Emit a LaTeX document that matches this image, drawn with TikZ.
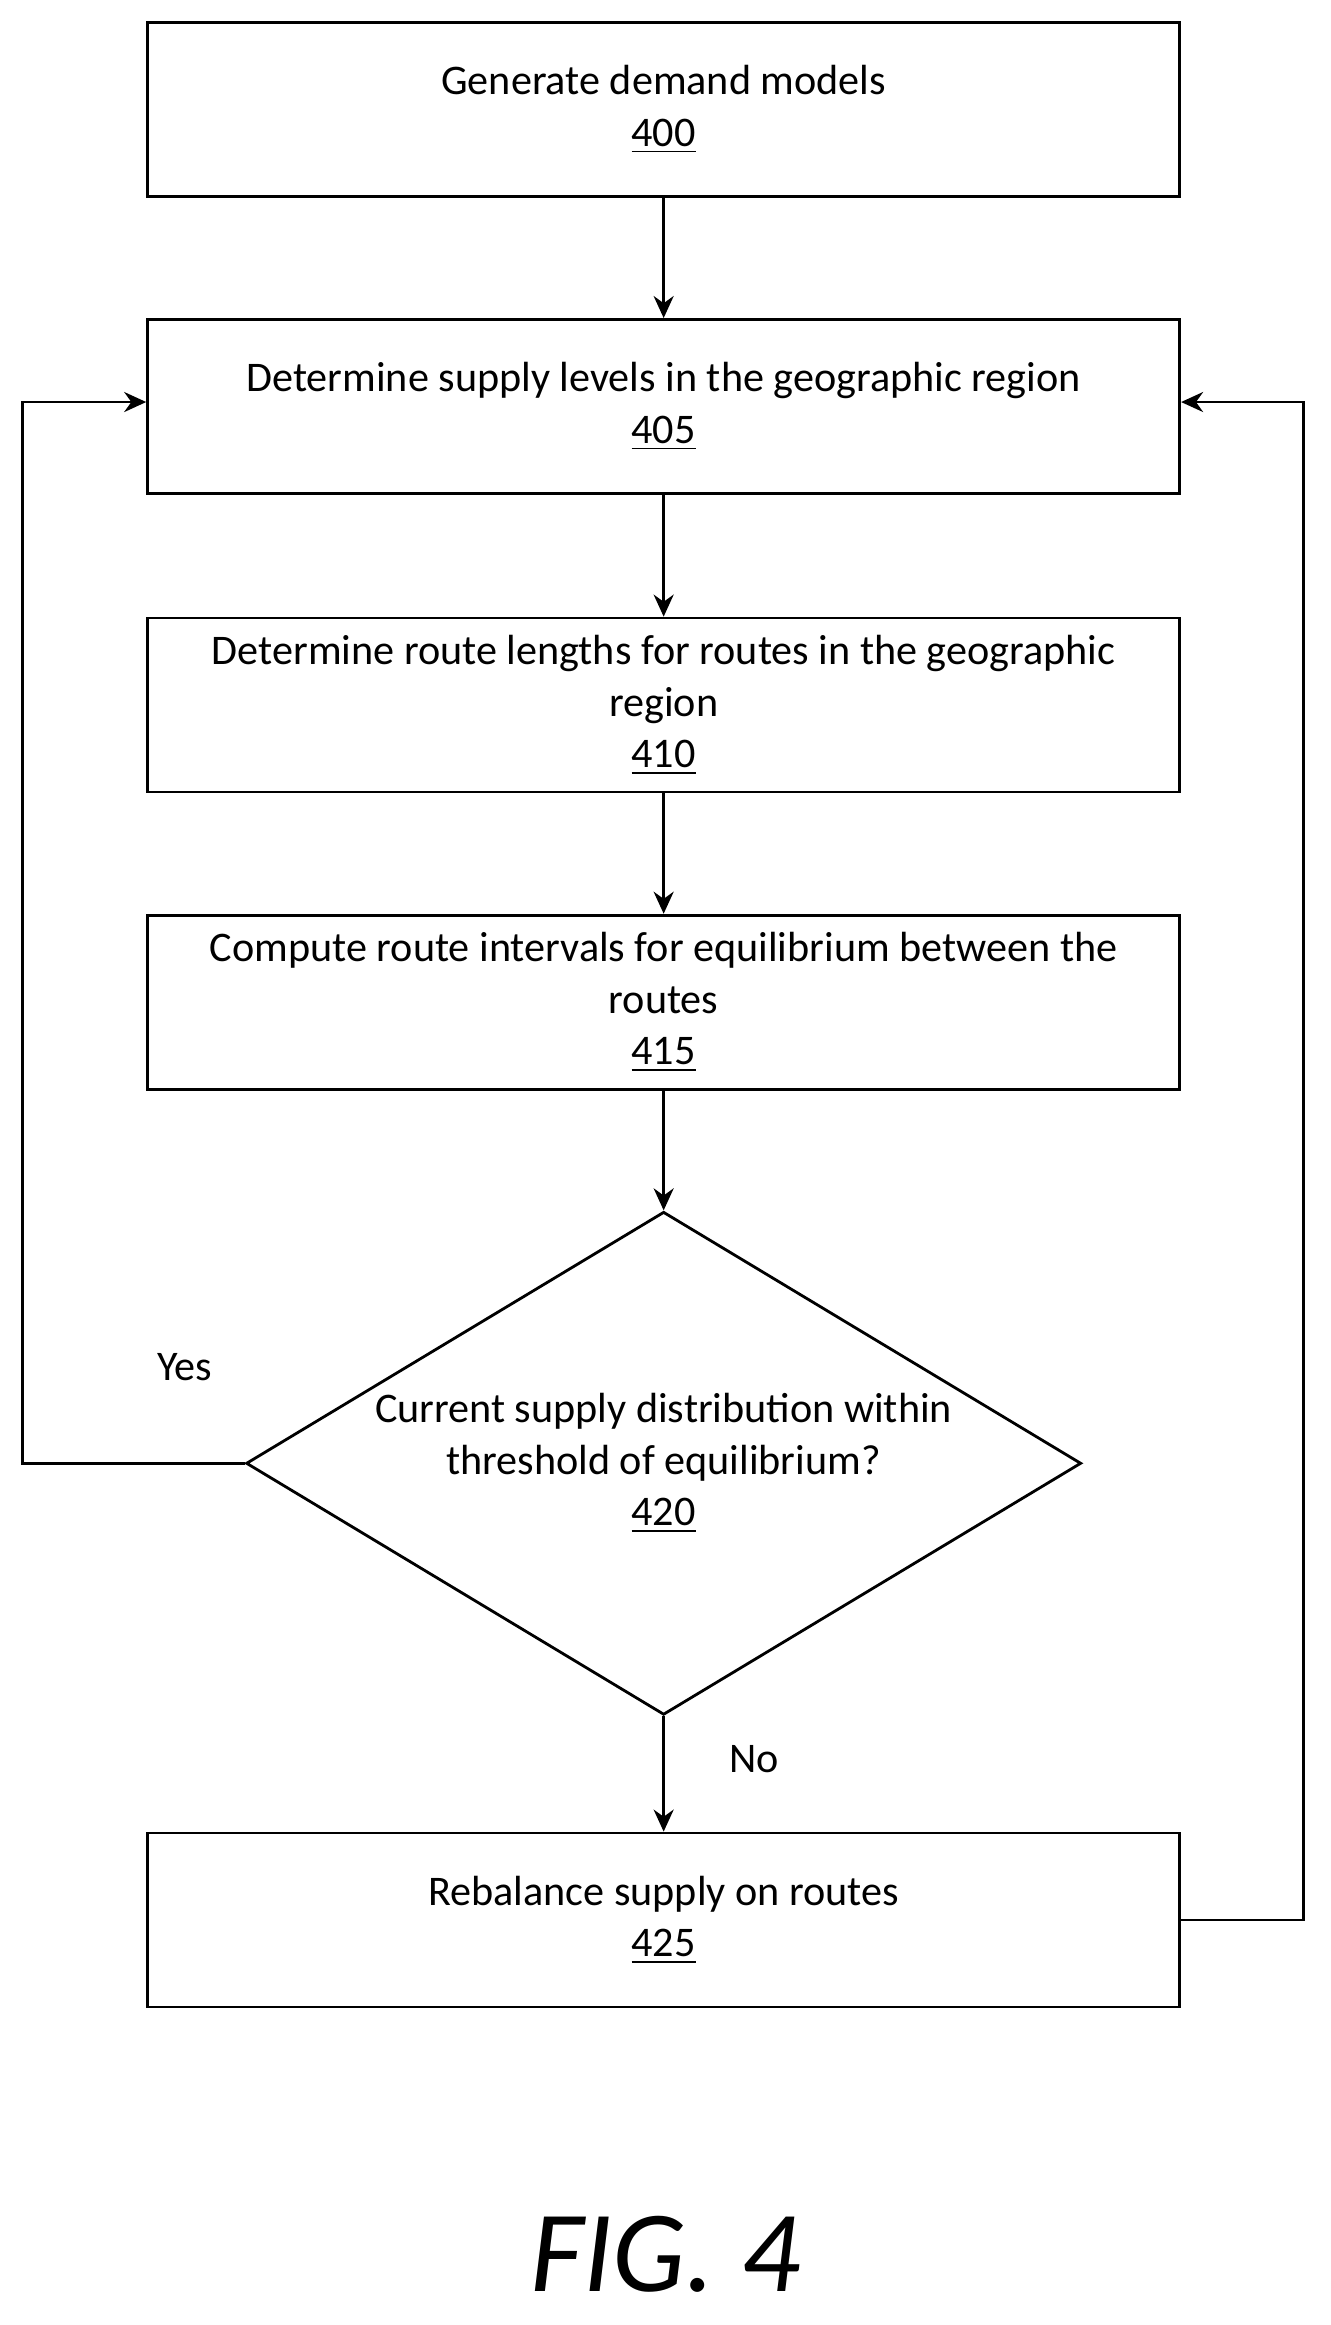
\documentclass[tikz,border=0pt]{standalone}
\usepackage{fontspec}
\setmainfont{Carlito}
\usetikzlibrary{shapes.geometric,arrows.meta}
\tikzset{
 stepbox/.style={draw,thick,minimum width=103.2mm,minimum height=17.4mm,align=center,font=\fontsize{12}{14.7}\selectfont},
 flow/.style={thick,-{Stealth[length=2.2mm,width=2mm]}}
}
\begin{document}
\begin{tikzpicture}[x=0.1478mm,y=-0.1478mm]
 \useasboundingbox (0,0) rectangle (900,1573);
 \node[stepbox] (b400) at (449,74) {Generate demand models\\\underline{400}};
 \node[stepbox] (b405) at (449,275) {Determine supply levels in the geographic region\\\underline{405}};
 \node[stepbox] (b410) at (449,477) {Determine route lengths for routes in the geographic\\region\\\underline{410}};
 \node[stepbox] (b415) at (449,678) {Compute route intervals for equilibrium between the\\routes\\\underline{415}};
 \node[draw,thick,diamond,inner sep=0pt,minimum width=83.5mm,minimum height=50.3mm] (d420) at (449,990) {};
 \node[align=center,font=\fontsize{12}{14.7}\selectfont] (t420) at (449,990) {Current supply distribution within\\threshold of equilibrium?\\\underline{420}};
 \node[stepbox] (b425) at (449,1299) {Rebalance supply on routes\\\underline{425}};
 \coordinate (cl) at (15,272);
 \coordinate (cr) at (882,272);
 % connectors
 \draw[flow] (b400) -- (b405);
 \draw[flow] (b405) -- (b410);
 \draw[flow] (b410) -- (b415);
 \draw[flow] (b415) -- (d420);
 \draw[flow] (d420) -- (b425);
 \draw[flow] (d420.west) -| (cl) -- (b405.west |- cl);
 \draw[flow] (b425.east) -| (cr) -- (b405.east |- cr);
 \node[font=\fontsize{12}{14.7}\selectfont] (yes) at (125,925) {Yes};
 \node[font=\fontsize{12}{14.7}\selectfont] (no) at (510,1190) {No};
 \node[font=\fontsize{33}{36}\selectfont\itshape] (fig) at (450,1525) {FIG. 4};
\end{tikzpicture}
\end{document}
